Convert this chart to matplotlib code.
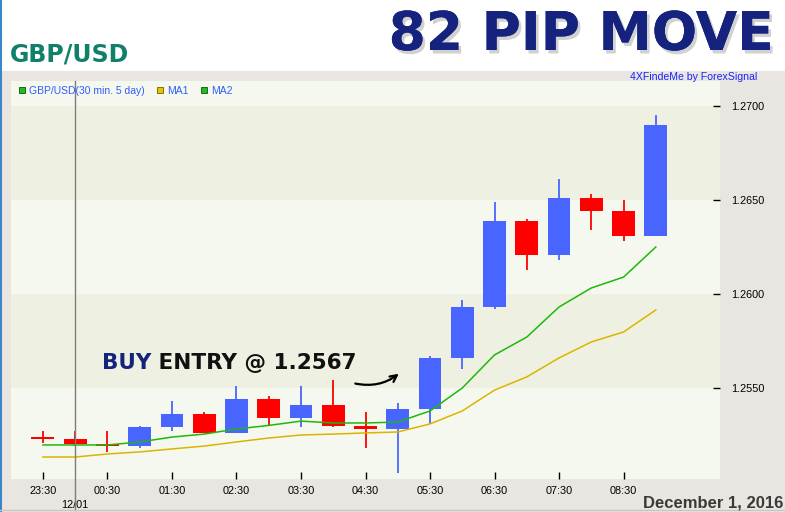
import numpy as np
import matplotlib
matplotlib.use("Agg")
import matplotlib.pyplot as plt
import matplotlib.patheffects as pe
from matplotlib.lines import Line2D
from matplotlib.patches import Rectangle

# 30 min candles, 23:30 (11/30) .. 09:00 (12/01)
time_labels = ["23:30", "00:30", "01:30", "02:30", "03:30",
               "04:30", "05:30", "06:30", "07:30", "08:30"]
opens = [1.2524, 1.2523, 1.2520, 1.2519, 1.2529, 1.2536, 1.2526, 1.2544, 1.2534, 1.2541,
         1.2530, 1.2528, 1.2539, 1.2566, 1.2593, 1.2639, 1.2621, 1.2651, 1.2644, 1.2631]
highs = [1.2527, 1.2527, 1.2527, 1.2530, 1.2543, 1.2537, 1.2551, 1.2546, 1.2551, 1.2554,
         1.2537, 1.2542, 1.2567, 1.2597, 1.2649, 1.2640, 1.2661, 1.2653, 1.2650, 1.2695]
lows = [1.2521, 1.2519, 1.2516, 1.2518, 1.2527, 1.2526, 1.2526, 1.2530, 1.2529, 1.2529,
        1.2518, 1.2505, 1.2531, 1.2560, 1.2592, 1.2613, 1.2618, 1.2634, 1.2628, 1.2631]
closes = [1.2523, 1.2520, 1.2519, 1.2529, 1.2536, 1.2526, 1.2544, 1.2534, 1.2541, 1.2530,
          1.2528, 1.2539, 1.2566, 1.2593, 1.2639, 1.2621, 1.2651, 1.2644, 1.2631, 1.2690]
ma1 = [1.25133, 1.25133, 1.25149, 1.25160, 1.25176, 1.25191, 1.25213, 1.25234, 1.25250, 1.25255,
       1.25261, 1.25266, 1.25309, 1.25378, 1.25489, 1.25559, 1.25660, 1.25745, 1.25798, 1.25915]
ma2 = [1.25197, 1.25197, 1.25197, 1.25213, 1.25239, 1.25255, 1.25282, 1.25301, 1.25324, 1.25314,
       1.25314, 1.25319, 1.25378, 1.25500, 1.25676, 1.25771, 1.25931, 1.26032, 1.26090, 1.26250]
price_ticks = [1.2550, 1.2600, 1.2650, 1.2700]
entry_price = 1.2567

W, H = 785, 512
fig = plt.figure(figsize=(W / 100, H / 100), dpi=100, facecolor="#e9e6e1")

# white header with a soft yellow glow on the right
top = 71 / H
fig.patches.append(Rectangle((0, 1 - top), 1, top, transform=fig.transFigure,
                             facecolor="white", edgecolor="none", zorder=0))
gax = fig.add_axes([0.45, 1 - top, 0.55, top])
gx = np.linspace(0, 1, 200)
gy = np.linspace(0, 1, 60)
a = np.clip((gx[None, :] - 0.15) / 0.85, 0, 1) * np.clip(1.15 - gy[:, None] * 1.15, 0, 1)
grad = np.zeros((60, 200, 4))
grad[..., 0] = 0.98
grad[..., 1] = 0.94
grad[..., 2] = 0.78
grad[..., 3] = a * 0.9
gax.imshow(grad, aspect="auto", extent=(0, 1, 0, 1), origin="upper")
gax.axis("off")

fig.add_artist(Line2D([0.0012, 0.0012], [0, 1], color="#3a86c8", lw=1.5))
fig.add_artist(Line2D([0, 1], [2.5 / H, 2.5 / H], color="#c9c5bf", lw=1))

fig.text(10 / W, 1 - 62 / H, "GBP/USD", color="#11806a", fontsize=17,
         fontweight="bold", va="baseline", ha="left", family="DejaVu Sans")
fig.text(774 / W, 1 - 50 / H, "82 PIP MOVE", color="#15237f", fontsize=38.5,
         fontweight="bold", va="baseline", ha="right", family="DejaVu Sans",
         path_effects=[pe.withSimplePatchShadow(offset=(2, -2.5), shadow_rgbFace="#999999", alpha=0.45),
                       pe.Normal()])
fig.text(757 / W, 1 - 77 / H, "4XFindeMe by ForexSignal", color="#1a22ff",
         fontsize=7.6, ha="right", va="center", family="Liberation Sans")
fig.text(783 / W, 1 - 503 / H, "December 1, 2016", color="#3a3a3a", fontsize=12,
         fontweight="bold", ha="right", va="center", family="Liberation Sans")

# main price panel
ax = fig.add_axes([11 / W, (H - 479) / H, 709 / W, 398 / H])
ax.set_facecolor("#f5f8ee")
x = np.arange(len(opens))
ax.set_xlim(-0.99, 20.99)
ax.set_ylim(1.25016, 1.27133)

ax.axhspan(1.2550, 1.2600, color="#eef1e1", zorder=0, lw=0)
ax.axhspan(1.2650, 1.2700, color="#eef1e1", zorder=0, lw=0)

o = np.array(opens)
c = np.array(closes)
up = c >= o
cols = np.where(up, "#4866ff", "#ff0000")
ax.vlines(x, lows, highs, colors=cols, lw=1.3, zorder=2)
ax.bar(x, np.maximum(np.abs(c - o), 0.00011), bottom=np.minimum(o, c), width=0.71,
       color=cols, zorder=3, lw=0)

ax.plot(x, ma1, color="#dcb400", lw=1.1, zorder=4)
ax.plot(x, ma2, color="#1fb80a", lw=1.1, zorder=4)

ax.axvline(1, ymin=-0.078, ymax=1, clip_on=False, color="#7d7d7d", lw=1, zorder=5)

for s in ax.spines.values():
    s.set_visible(False)
ax.yaxis.tick_right()
ax.set_yticks(price_ticks)
ax.set_yticklabels([f"{p:.4f}" for p in price_ticks])
ax.set_xticks(x[::2])
ax.set_xticklabels(time_labels)
ax.tick_params(axis="y", direction="in", length=5, width=1, pad=8, labelsize=7.8,
               colors="black")
ax.tick_params(axis="x", direction="in", length=5, width=1, pad=5, labelsize=7.8,
               colors="black")
for t in ax.get_xticklabels() + ax.get_yticklabels():
    t.set_family("Liberation Sans")
ax.annotate("12/01", xy=(1, 0), xycoords=("data", "axes fraction"), xytext=(0, -18.5),
            textcoords="offset points", ha="center", va="center", fontsize=7.8,
            family="Liberation Sans")

handles = [Line2D([], [], marker="s", ls="", ms=4.5, mfc="#22bb22", mec="#1a6a1a", mew=0.7),
           Line2D([], [], marker="s", ls="", ms=4.5, mfc="#e6c200", mec="#8a7000", mew=0.7),
           Line2D([], [], marker="s", ls="", ms=4.5, mfc="#22bb22", mec="#1a6a1a", mew=0.7)]
leg = ax.legend(handles, ["GBP/USD(30 min. 5 day)", "MA1", "MA2"], loc="upper left",
                ncol=3, frameon=False, labelcolor="#2f5cff",
                handlelength=0.7, handletextpad=0.35, columnspacing=1.1,
                borderaxespad=0.0, bbox_to_anchor=(0.004, 0.998),
                prop={"family": "Liberation Sans", "size": 7.5})

buy = ax.text(0.128, 0.276, "BUY", transform=ax.transAxes, color="#15237f",
              fontsize=15.5, fontweight="bold", family="DejaVu Sans", va="baseline")
ax.annotate(f" ENTRY @ {entry_price:.4f}", xy=(1, 0), xycoords=buy, va="bottom",
            color="#111111", fontsize=15.5, fontweight="bold", family="DejaVu Sans")
ax.annotate("", xy=(11.1, 1.25585), xytext=(9.6, 1.25527),
            arrowprops=dict(arrowstyle="->", color="black", lw=1.6,
                            connectionstyle="arc3,rad=0.25", mutation_scale=12))

fig.savefig("out.png", dpi=100, facecolor=fig.get_facecolor())
